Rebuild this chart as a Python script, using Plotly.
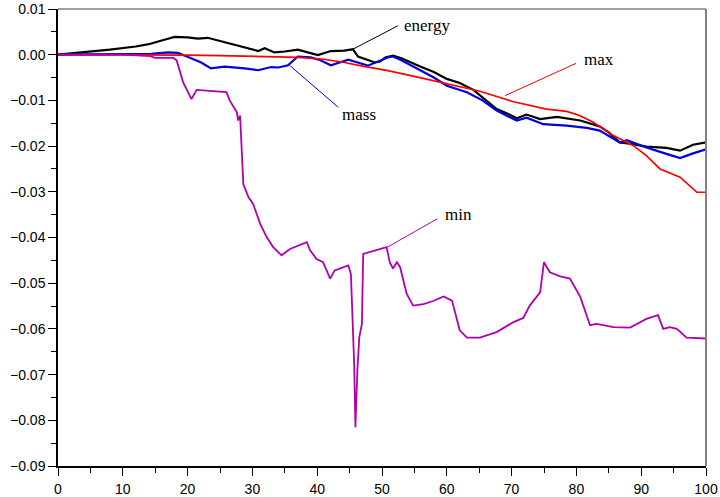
import plotly.graph_objects as go

# Time axis samples and relative-error histories for each monitored quantity
energy_t = [0, 4, 8, 12, 14, 16, 18, 20, 21.6, 23.1, 25.7, 28, 30.9, 31.9, 33.4, 35, 37,
            40.1, 42.1, 44.2, 45.5, 46.3, 48.9, 49.7, 50.5, 51.7, 53, 55.9, 58, 60, 62,
            64.1, 66, 67.7, 69.5, 70.8, 72.3, 74.4, 77, 80.6, 83.6, 85, 86.7, 88.5, 90.8,
            93.9, 96, 98, 100]
energy = [0, 0.0005, 0.0011, 0.0018, 0.0023, 0.0031, 0.0039, 0.0038, 0.0035, 0.0037,
          0.0027, 0.0019, 0.0008, 0.0014, 0.0005, 0.0007, 0.0011, -0.0001, 0.0008, 0.0009,
          0.0012, -0.0004, -0.0017, -0.0015, -0.0006, -0.0002, -0.0008, -0.0026, -0.0038,
          -0.0053, -0.0062, -0.0077, -0.0100, -0.0119, -0.0130, -0.0139, -0.0131, -0.0141,
          -0.0136, -0.0144, -0.0157, -0.0170, -0.0192, -0.0195, -0.0201, -0.0204, -0.0210,
          -0.0197, -0.0192]

mass_t = [0, 10, 14.4, 17, 18.5, 19.5, 21, 22.1, 23.6, 25.7, 28.8, 30.9, 32.9, 34, 35.5,
          37, 39, 40.5, 42.1, 44.8, 46, 47.8, 50.9, 51.7, 53, 55.9, 58, 60, 63.1, 65.5,
          67.7, 69.5, 70.8, 72.3, 74.9, 78.5, 81.6, 83.6, 85, 86.7, 87.8, 90.8, 93.9, 96,
          98, 100]
mass = [0, 0.0001, 0.0002, 0.0005, 0.0004, -0.0002, -0.0010, -0.0017, -0.0030, -0.0026,
        -0.0030, -0.0034, -0.0027, -0.0028, -0.0023, -0.0004, -0.0006, -0.0012, -0.0023,
        -0.0011, -0.0016, -0.0024, -0.0006, -0.0004, -0.0012, -0.0035, -0.0050, -0.0068,
        -0.0082, -0.0100, -0.0122, -0.0135, -0.0144, -0.0138, -0.0152, -0.0155, -0.0160,
        -0.0166, -0.0178, -0.0192, -0.0187, -0.0203, -0.0217, -0.0226, -0.0216, -0.0207]

max_t = [0, 10, 20, 25, 30.9, 37, 41, 44.2, 47, 50.9, 54.8, 60, 65.1, 70.3, 75.4, 78.5,
         80.5, 82.6, 85.7, 88.8, 90.8, 92.9, 96, 98.6, 100]
max_err = [0, 0, -0.0001, -0.0002, -0.0004, -0.0006, -0.0010, -0.0017, -0.0025, -0.0035,
           -0.0047, -0.0064, -0.0080, -0.0103, -0.0119, -0.0124, -0.0133, -0.0148, -0.0177,
           -0.0199, -0.0221, -0.0250, -0.0268, -0.0301, -0.0301]

min_t = [0, 10, 14.2, 15, 17.8, 18.3, 19.3, 20.6, 21.4, 23.5, 26, 26.5, 27.6, 27.8, 28.1,
         28.6, 29.4, 30.1, 31.2, 32.2, 33.2, 34.5, 35.8, 38.4, 38.9, 39.9, 40.9, 42, 42.7,
         44.8, 45.2, 45.5, 45.7, 45.9, 46.2, 46.5, 46.9, 47.1, 49.2, 50.7, 51.2, 51.7, 52.3,
         52.8, 53.8, 54.8, 56.4, 57.9, 59.5, 60.8, 62, 63.1, 65.1, 67.7, 70.3, 71.8, 72.8,
         74.4, 75, 75.9, 77.5, 79, 80.6, 82.1, 83.1, 85.7, 88.3, 90.8, 92.6, 93.4, 94.4,
         95.5, 97, 100]
min_err = [0, 0, -0.0003, -0.0007, -0.0007, -0.0012, -0.0060, -0.0097, -0.0077, -0.0079,
           -0.0082, -0.0100, -0.0126, -0.0144, -0.0133, -0.0283, -0.0312, -0.0326, -0.0370,
           -0.0399, -0.0421, -0.0439, -0.0425, -0.0410, -0.0428, -0.0447, -0.0454, -0.0490,
           -0.0472, -0.0461, -0.0480, -0.0596, -0.0675, -0.0815, -0.0690, -0.0618, -0.0589,
           -0.0436, -0.0428, -0.0421, -0.0454, -0.0468, -0.0454, -0.0465, -0.0523, -0.0549,
           -0.0546, -0.0539, -0.0529, -0.0538, -0.0603, -0.0619, -0.0619, -0.0607, -0.0585,
           -0.0576, -0.0549, -0.0520, -0.0454, -0.0476, -0.0485, -0.0490, -0.0530, -0.0592,
           -0.0589, -0.0596, -0.0597, -0.0578, -0.0570, -0.0600, -0.0596, -0.0600, -0.0619,
           -0.0621]

x_ticks = [0, 10, 20, 30, 40, 50, 60, 70, 80, 90, 100]
y_ticks = [0.01, 0.0, -0.01, -0.02, -0.03, -0.04, -0.05, -0.06, -0.07, -0.08, -0.09]
y_tick_text = ["0.01", "0.00", "\u22120.01", "\u22120.02", "\u22120.03", "\u22120.04",
               "\u22120.05", "\u22120.06", "\u22120.07", "\u22120.08", "\u22120.09"]

# Labels with leader lines: (text, colour, line start, line end, text anchor)
labels = [
    ("energy", "#000000", (45.06, 0.00087), (52.47, 0.00634), (53.1, 0.00634)),
    ("mass", "#0000e0", (35.8, -0.0024), (43.26, -0.01152), (43.5, -0.01311)),
    ("max", "#ff0000", (68.98, -0.00896), (79.94, -0.0019), (80.8, -0.0011)),
    ("min", "#b000b0", (50.82, -0.04212), (58.53, -0.03591), (59.37, -0.03497)),
]

fig = go.Figure()
fig.add_trace(go.Scatter(x=energy_t, y=energy, mode="lines",
                         line=dict(color="#000000", width=2.2), name="energy"))
fig.add_trace(go.Scatter(x=mass_t, y=mass, mode="lines",
                         line=dict(color="#0000e0", width=2.2), name="mass"))
fig.add_trace(go.Scatter(x=max_t, y=max_err, mode="lines",
                         line=dict(color="#ff0000", width=1.7), name="max"))
fig.add_trace(go.Scatter(x=min_t, y=min_err, mode="lines",
                         line=dict(color="#b000b0", width=1.8), name="min"))

for text, color, p0, p1, pt in labels:
    fig.add_shape(type="line", xref="x", yref="y", x0=p0[0], y0=p0[1], x1=p1[0], y1=p1[1],
                  line=dict(color=color, width=1))
    fig.add_annotation(x=pt[0], y=pt[1], xref="x", yref="y", text=text, showarrow=False,
                       xanchor="left", yanchor="middle",
                       font=dict(family="Liberation Serif", size=17, color="#000000"))

# Grey frame on the top and right sides
fig.add_shape(type="line", xref="paper", yref="paper", x0=0, y0=1, x1=1, y1=1,
              line=dict(color="#808080", width=1.5))
fig.add_shape(type="line", xref="paper", yref="paper", x0=1, y0=0, x1=1, y1=1,
              line=dict(color="#808080", width=2))

axis_common = dict(showgrid=False, zeroline=False, showline=True, linecolor="#000000",
                   linewidth=1.5, ticks="outside", ticklen=8, tickwidth=1.3,
                   tickcolor="#000000", automargin=False,
                   tickfont=dict(family="Liberation Sans", size=14, color="#000000"))

fig.update_layout(
    width=720, height=497,
    margin=dict(l=58, r=14, t=8.5, b=31),
    paper_bgcolor="white", plot_bgcolor="white",
    showlegend=False,
    xaxis=dict(range=[0, 100], tickvals=x_ticks, ticklabelstandoff=1,
               minor=dict(ticks="outside", ticklen=5, tickwidth=1.3, tickcolor="#000000",
                          dtick=5, tick0=0, showgrid=False),
               **axis_common),
    yaxis=dict(range=[-0.09, 0.01], tickvals=y_ticks, ticktext=y_tick_text,
               minor=dict(ticks="outside", ticklen=5, tickwidth=1.3, tickcolor="#000000",
                          dtick=0.005, tick0=0, showgrid=False),
               **axis_common),
)

fig.write_html("out.html")
